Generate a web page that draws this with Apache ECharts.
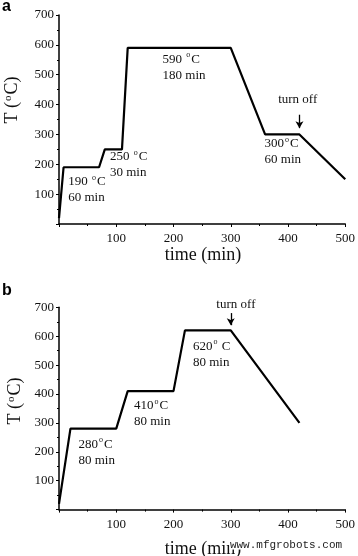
<!DOCTYPE html>
<html><head><meta charset="utf-8">
<script src="https://cdn.jsdelivr.net/npm/echarts@6/dist/echarts.min.js"></script>
<style>html,body{margin:0;padding:0;background:#fff}#c{width:358px;height:556px}</style>
</head><body><div id="c"></div>
<script>
// Panel a: heating schedule
const timeA = [0, 8, 70, 80, 110, 120, 300, 360, 420, 500];
const tempA = [20, 190, 190, 250, 250, 590, 590, 300, 300, 150];
// Panel b: heating schedule
const timeB = [0, 20, 100, 120, 200, 220, 300, 420];
const tempB = [20, 280, 280, 410, 410, 620, 620, 300];
// Axis ranges / ticks
const xMin = 0, xMax = 500, xStep = 100;
const yMin = 0, yMax = 700, yStep = 100;
// Annotation texts
const notesA = ['190 {s|o}C\n60 min', '250 {s|o}C\n30 min', '590 {s|o}C\n180 min', '300{s|o}C\n60 min'];
const notesB = ['280{s|o}C\n80 min', '410{s|o}C\n80 min', '620{s|o} C\n80 min'];
const turnOff = 'turn off';

const serif = '"Liberation Serif", "Times New Roman", serif';
const rich = { s: { fontSize: 8, verticalAlign: 'top', lineHeight: 16, padding: [0, 1, 6, 1], fontFamily: serif, color: '#111' } };

function axisX(i) {
  return {
    type: 'value', gridIndex: i, min: xMin, max: xMax, interval: xStep,
    axisLine: { lineStyle: { color: '#000', width: 1.5 } },
    axisTick: { length: 3, lineStyle: { color: '#000', width: 1 } },
    minorTick: { show: true, splitNumber: 2, length: 2, lineStyle: { color: '#000', width: 1 } },
    splitLine: { show: false },
    axisLabel: { showMinLabel: false, fontFamily: serif, fontSize: 13, color: '#111', margin: 8 }
  };
}
function axisY(i) {
  return {
    type: 'value', gridIndex: i, min: yMin, max: yMax, interval: yStep,
    axisLine: { show: true, lineStyle: { color: '#000', width: 1.5 } },
    axisTick: { show: true, length: 3, lineStyle: { color: '#000', width: 1 } },
    minorTick: { show: true, splitNumber: 2, length: 2, lineStyle: { color: '#000', width: 1 } },
    splitLine: { show: false },
    axisLabel: { showMinLabel: false, fontFamily: serif, fontSize: 13, color: '#111', margin: 5 }
  };
}
function note(text, coord) {
  return { coord: coord, symbolSize: 0, label: { show: true, formatter: text, position: [0, 0], align: 'left', verticalAlign: 'middle', fontFamily: serif, fontSize: 13, lineHeight: 16, color: '#111', rich: rich } };
}
function centerNote(text, coord, dy) {
  return { coord: coord, symbolSize: 0, label: { show: true, formatter: text, position: [0, 0], offset: [0, dy || 0], align: 'center', verticalAlign: 'middle', fontFamily: serif, fontSize: 13, color: '#111' } };
}
function arrow(x, y1, y2) {
  return [{ coord: [x, y1] }, { coord: [x, y2] }];
}
const markLineBase = { silent: true, symbol: ['none', 'arrow'], symbolSize: [6, 7], lineStyle: { color: '#000', width: 1.3, type: 'solid' }, label: { show: false } };

const option = {
  animation: false,
  backgroundColor: '#fff',
  grid: [
    { left: 59, width: 288, top: 15, height: 209 },
    { left: 59, width: 289, top: 307.3, height: 202.3 }
  ],
  xAxis: [axisX(0), axisX(1)],
  yAxis: [axisY(0), axisY(1)],
  series: [
    {
      type: 'line', xAxisIndex: 0, yAxisIndex: 0, symbol: 'none', clip: false,
      lineStyle: { color: '#000', width: 2.2 },
      data: timeA.map((t, k) => [t, tempA[k]]),
      markPoint: { silent: true, data: [
        note(notesA[0], [16, 115]),
        note(notesA[1], [89, 199]),
        note(notesA[2], [181, 525]),
        note(notesA[3], [359, 242]),
        centerNote(turnOff, [417, 416])
      ] },
      markLine: Object.assign({ data: [arrow(420, 366, 321)] }, markLineBase)
    },
    {
      type: 'line', xAxisIndex: 1, yAxisIndex: 1, symbol: 'none', clip: false,
      lineStyle: { color: '#000', width: 2.2 },
      data: timeB.map((t, k) => [t, tempB[k]]),
      markPoint: { silent: true, data: [
        note(notesB[0], [34, 199]),
        note(notesB[1], [131, 332]),
        note(notesB[2], [234, 538]),
        centerNote(turnOff, [309, 700], -3)
      ] },
      markLine: Object.assign({ data: [arrow(300, 680, 638)] }, markLineBase)
    }
  ],
  graphic: [
    { type: 'text', left: 2, top: -1, style: { text: 'a', font: 'bold 16px "Liberation Sans", Arial, sans-serif', fill: '#000' } },
    { type: 'text', left: 2, top: 283, style: { text: 'b', font: 'bold 16px "Liberation Sans", Arial, sans-serif', fill: '#000' } },
    { type: 'text', x: 203, y: 255, style: { text: 'time (min)', font: '18px ' + serif, fill: '#111', align: 'center', verticalAlign: 'middle' } },
    { type: 'text', x: 12, y: 100, rotation: Math.PI / 2, style: { text: 'T ({s|o}C)', font: '18px ' + serif, fill: '#111', align: 'center', verticalAlign: 'middle', rich: { s: { fontSize: 11, verticalAlign: 'top', padding: [0, 1, 8, 1], fontFamily: serif, fill: '#111' } } } },
    { type: 'text', x: 203, y: 549, style: { text: 'time (min)', font: '18px ' + serif, fill: '#111', align: 'center', verticalAlign: 'middle' } },
    { type: 'text', x: 15, y: 401, rotation: Math.PI / 2, style: { text: 'T ({s|o}C)', font: '18px ' + serif, fill: '#111', align: 'center', verticalAlign: 'middle', rich: { s: { fontSize: 11, verticalAlign: 'top', padding: [0, 1, 8, 1], fontFamily: serif, fill: '#111' } } } },
    { type: 'text', x: 286, y: 545, style: { text: 'www.mfgrobots.com', font: '11px "Liberation Mono", "Courier New", monospace', fill: '#222', align: 'center', verticalAlign: 'middle', stroke: '#fff', lineWidth: 3 } }
  ]
};
const chart = echarts.init(document.getElementById('c'), null, { renderer: 'canvas' });
chart.setOption(option);
</script>
</body></html>
